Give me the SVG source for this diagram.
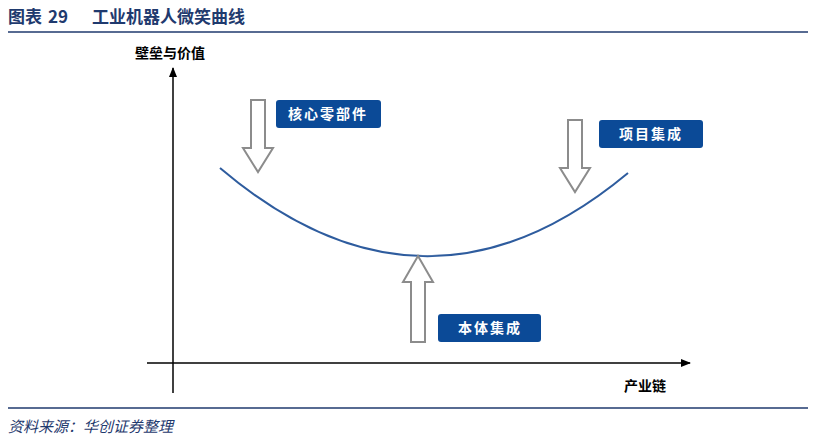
<svg xmlns="http://www.w3.org/2000/svg" width="814" height="440" viewBox="0 0 814 440">
<style>
.t{font-family:"Noto Sans CJK SC","Liberation Sans",sans-serif}
.box{fill:#0B4A97}
.bt{font-family:"Noto Sans CJK SC",sans-serif;font-size:14px;fill:#fff;font-weight:bold;text-anchor:middle;letter-spacing:2px}
.ar{fill:#fff;stroke:#8C8C8C;stroke-width:2}
</style>
<defs><marker id="m" markerWidth="10" markerHeight="8" refX="9" refY="4" orient="auto" markerUnits="userSpaceOnUse"><path d="M0,0L10,4L0,8z" fill="#000"/></marker></defs>
<rect width="814" height="440" fill="#fff"/>
<text x="8" y="23" class="t" font-size="17" font-weight="bold" fill="#1F3A6E">图表</text>
<text x="48" y="23" class="t" font-size="17" font-weight="bold" fill="#1F3A6E">29</text>
<text x="92" y="23" class="t" font-size="17" font-weight="bold" fill="#1F3A6E">工业机器人微笑曲线</text>
<line x1="8" y1="32" x2="808" y2="32" stroke="#1F3A6E" stroke-width="1.5"/>
<line x1="8" y1="408" x2="808" y2="408" stroke="#1F3A6E" stroke-width="1.5"/>
<text x="8" y="432" class="t" font-size="15" font-style="italic" fill="#1F3A6E">资料来源：华创证券整理</text>
<g id="connectors">
<line x1="173" y1="393" x2="173" y2="68" stroke="#000" stroke-width="1.5" marker-end="url(#m)"/>
<line x1="147" y1="363" x2="690" y2="363" stroke="#000" stroke-width="1.5" marker-end="url(#m)"/>
<path d="M220,168 Q425,342 628,173" fill="none" stroke="#2E5C9E" stroke-width="2"/>
</g>
<text x="170" y="58" class="t" font-size="14" font-weight="bold" text-anchor="middle">壁垒与价值</text>
<text x="645" y="391" class="t" font-size="14" font-weight="bold" text-anchor="middle">产业链</text>
<g id="n1">
<path class="ar" d="M251,100H265V148H273L258,172L243,148H251Z"/>
<rect class="box" x="276" y="100" width="105" height="28" rx="3"/>
<text class="bt" x="328" y="119">核心零部件</text>
</g>
<g id="n2">
<path class="ar" d="M568,120H582V168H590L575,192L560,168H568Z"/>
<rect class="box" x="599" y="120" width="104" height="28" rx="3"/>
<text class="bt" x="651" y="139">项目集成</text>
</g>
<g id="n3">
<path class="ar" d="M411,342H425V282H433L418,256L403,282H411Z"/>
<rect class="box" x="438" y="314" width="103" height="28" rx="3"/>
<text class="bt" x="490" y="333">本体集成</text>
</g>
</svg>
